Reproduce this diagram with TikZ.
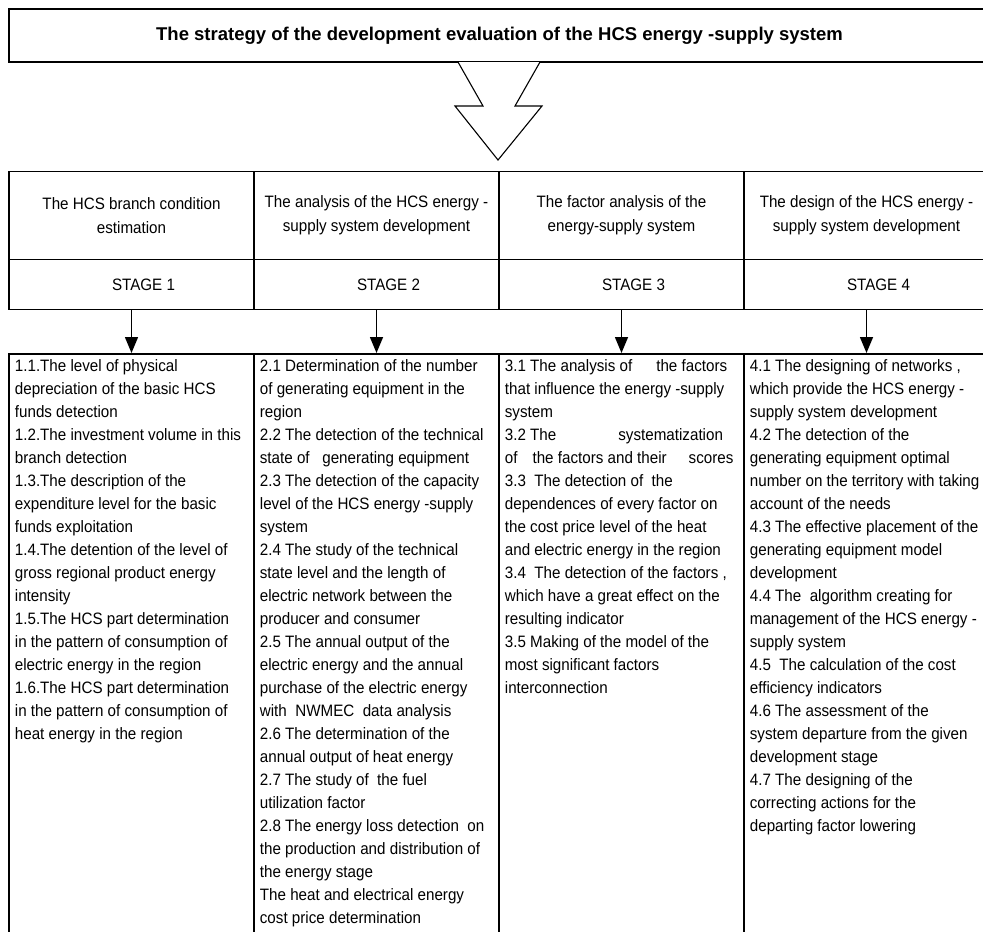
\documentclass[tikz,border=0pt]{standalone}
\usepackage{fontspec}
\setmainfont[FakeStretch=0.92]{Liberation Sans}
\newfontfamily\titlefont{Liberation Sans}
\usepackage{tikz}
\usetikzlibrary{arrows.meta, positioning}
\tikzset{
  titlebox/.style={rectangle, draw=black, line width=1.6pt, minimum width=981pt, minimum height=53pt, font=\titlefont\bfseries\fontsize{18.5}{22}\selectfont},
  headcell/.style={rectangle, draw=black, line width=1.6pt, minimum width=245pt, minimum height=88pt, align=center, font=\fontsize{16.5}{24}\selectfont},
  stagecell/.style={rectangle, draw=black, line width=1.6pt, minimum width=245pt, minimum height=50pt, font=\fontsize{16.5}{20}\selectfont},
  colbox/.style={rectangle, draw=black, line width=1.6pt, minimum width=245pt, minimum height=620pt, anchor=north},
  bodytext/.style={anchor=north west, align=left, inner xsep=6.5pt, inner ysep=6pt, font=\fontsize{16.5}{23}\selectfont},
  bigarrow/.style={draw=black, line width=1.1pt, fill=white, line join=miter},
  arrowline/.style={-{Triangle[length=16pt, width=13pt]}, line width=1.5pt},
}
\begin{document}
\begin{tikzpicture}[x=1pt, y=-1pt]
\useasboundingbox (0,0) rectangle (983,932);
\clip (0,0) rectangle (983,932);

\node[titlebox] (title) at (499.5,35.5) {The strategy of the development evaluation of the HCS energy -supply system};

\draw[bigarrow] (458,62) -- (483,106) -- (455,106) -- (498,160) -- (542,106) -- (515,106) -- (540,62);

\node[headcell] (head1) at (131.5,215.5) {The HCS branch condition\\estimation};
\node[headcell] (head2) at (376.5,215.5) {The analysis of the HCS energy -\\supply system development};
\node[headcell] (head3) at (621.5,215.5) {The factor analysis of the\\energy-supply system};
\node[headcell] (head4) at (866.5,215.5) {The design of the HCS energy -\\supply system development};

\node[stagecell] (stage1) at (131.5,284.5) {\hspace*{24pt}STAGE 1};
\node[stagecell] (stage2) at (376.5,284.5) {\hspace*{24pt}STAGE 2};
\node[stagecell] (stage3) at (621.5,284.5) {\hspace*{24pt}STAGE 3};
\node[stagecell] (stage4) at (866.5,284.5) {\hspace*{24pt}STAGE 4};

\node[colbox] (box1) at (131.5,353) {};
\node[colbox] (box2) at (376.5,353) {};
\node[colbox] (box3) at (621.5,353) {};
\node[colbox] (box4) at (866.5,353) {};

\node[bodytext] (body1) at (box1.north west) {1.1.The level of physical\\depreciation of the basic HCS\\funds detection\\1.2.The investment volume in this\\branch detection\\1.3.The description of the\\expenditure level for the basic\\funds exploitation\\1.4.The detention of the level of\\gross regional product energy\\intensity\\1.5.The HCS part determination\\in the pattern of consumption of\\electric energy in the region\\1.6.The HCS part determination\\in the pattern of consumption of\\heat energy in the region};
\node[bodytext] (body2) at (box2.north west) {2.1 Determination of the number\\of generating equipment in the\\region\\2.2 The detection of the technical\\state of\ \ \ generating equipment\\2.3 The detection of the capacity\\level of the HCS energy -supply\\system\\2.4 The study of the technical\\state level and the length of\\electric network between the\\producer and consumer\\2.5 The annual output of the\\electric energy and the annual\\purchase of the electric energy\\with\ \ NWMEC\ \ data analysis\\2.6 The determination of the\\annual output of heat energy\\2.7 The study of\ \ the fuel\\utilization factor\\2.8 The energy loss detection\ \ on\\the production and distribution of\\the energy stage\\The heat and electrical energy\\cost price determination};
\node[bodytext] (body3) at (box3.north west) {3.1 The analysis of\hspace*{24pt}the factors\\that influence the energy -supply\\system\\3.2 The\hspace*{62pt}systematization\\of\hspace*{15pt}the factors and their\hspace*{22pt}scores\\3.3\ \ The detection of\ \ the\\dependences of every factor on\\the cost price level of the heat\\and electric energy in the region\\3.4\ \ The detection of the factors ,\\which have a great effect on the\\resulting indicator\\3.5 Making of the model of the\\most significant factors\\interconnection};
\node[bodytext] (body4) at (box4.north west) {4.1 The designing of networks ,\\which provide the HCS energy -\\supply system development\\4.2 The detection of the\\generating equipment optimal\\number on the territory with taking\\account of the needs\\4.3 The effective placement of the\\generating equipment model\\development\\4.4 The\ \ algorithm creating for\\management of the HCS energy -\\supply system\\4.5\ \ The calculation of the cost\\efficiency indicators\\4.6 The assessment of the\\system departure from the given\\development stage\\4.7 The designing of the\\correcting actions for the\\departing factor lowering};

\draw[arrowline] (stage1) -- (box1);
\draw[arrowline] (stage2) -- (box2);
\draw[arrowline] (stage3) -- (box3);
\draw[arrowline] (stage4) -- (box4);
\end{tikzpicture}
\end{document}
